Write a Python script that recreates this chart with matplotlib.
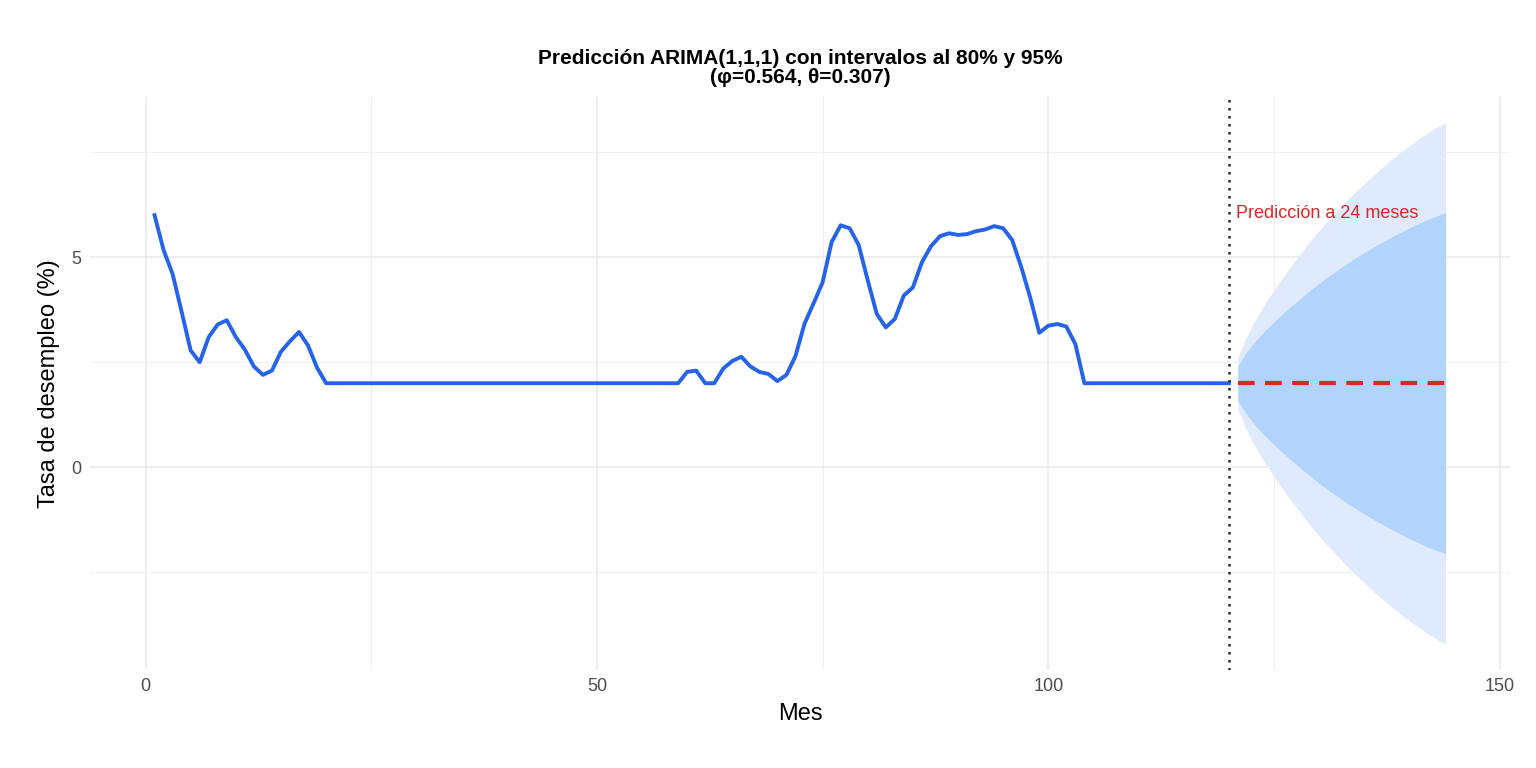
import matplotlib
matplotlib.use("Agg")
import matplotlib.pyplot as plt
import numpy as np

plt.rcParams['font.family'] = ['Liberation Sans', 'DejaVu Sans']

months = list(range(1, 121))
obs_head = [6.0, 5.17, 4.6, 3.7, 2.78, 2.5, 3.1, 3.4, 3.5, 3.1, 2.8, 2.4, 2.2, 2.3, 2.75,
            3.0, 3.22, 2.9, 2.37, 2.0]
obs_flat1 = [2.0] * 38  # months 21-58
obs_mid = [2.0, 2.27, 2.3, 2.0, 2.0, 2.35, 2.53, 2.63, 2.4, 2.27, 2.22, 2.05, 2.2, 2.65,
           3.42, 3.9, 4.4, 5.36, 5.76, 5.69, 5.29, 4.45, 3.65, 3.33, 3.53, 4.09, 4.28,
           4.88, 5.26, 5.5, 5.57, 5.53, 5.55, 5.62, 5.66, 5.74, 5.69, 5.41, 4.77, 4.04,
           3.2, 3.37, 3.41, 3.35, 2.93, 2.0]  # months 59-104
obs_flat2 = [2.0] * 16  # months 105-120
values = obs_head + obs_flat1 + obs_mid + obs_flat2

fc_months = list(range(121, 145))
fc_mean = [2.0] * 24
hw80 = [0.42, 0.75, 1.02, 1.25, 1.46, 1.66, 1.85, 2.03, 2.21, 2.38, 2.54, 2.69, 2.84, 2.98,
        3.11, 3.24, 3.36, 3.48, 3.59, 3.7, 3.8, 3.9, 3.98, 4.06]
hw95 = [0.62, 1.12, 1.54, 1.9, 2.22, 2.53, 2.83, 3.1, 3.38, 3.64, 3.88, 4.11, 4.34, 4.55,
        4.75, 4.95, 5.14, 5.32, 5.49, 5.66, 5.81, 5.96, 6.09, 6.21]

fig = plt.figure(figsize=(15.36, 7.68), dpi=100)
ax = fig.add_axes([0.0586, 0.128, 0.9245, 0.746])

fm = np.array(fc_mean)
ax.fill_between(fc_months, fm - np.array(hw95), fm + np.array(hw95), color="#dfeafd", lw=0, zorder=2)
ax.fill_between(fc_months, fm - np.array(hw80), fm + np.array(hw80), color="#b2d3fb", lw=0, zorder=3)
ax.plot(months, values, color="#2563eb", lw=2.8, zorder=4, solid_joinstyle="round")
ax.plot(fc_months, fc_mean, color="#dc2626", lw=3.0, ls=(0, (4, 2.5)), zorder=5)
ax.axvline(120, color="#222a35", lw=1.8, ls=(0, (1, 2.2)), zorder=6)
ax.text(120.8, 6.05, "Predicción a 24 meses", color="#dc2626", fontsize=13, va="center", ha="left")

ax.set_xlim(-6.15, 151.15)
ax.set_ylim(-4.82, 8.82)
ax.set_xticks([0, 50, 100, 150])
ax.set_yticks([0, 5])
ax.set_xticks([25, 75, 125], minor=True)
ax.set_yticks([-2.5, 2.5, 7.5], minor=True)
ax.grid(which="major", color="#ebebeb", lw=1.2)
ax.grid(which="minor", color="#efefef", lw=0.7)
ax.set_axisbelow(True)
for s in ax.spines.values():
    s.set_visible(False)
ax.tick_params(which="both", length=0, labelsize=13, labelcolor="#4d4d4d", pad=6)
ax.set_xlabel("Mes", fontsize=17, labelpad=6)
ax.set_ylabel("Tasa de desempleo (%)", fontsize=17, labelpad=8)
ax.set_title("Predicción ARIMA(1,1,1) con intervalos al 80% y 95%\n(φ=0.564, θ=0.307)",
             fontsize=15, fontweight="bold", pad=10, linespacing=1.0)

fig.savefig("out.png", dpi=100)
